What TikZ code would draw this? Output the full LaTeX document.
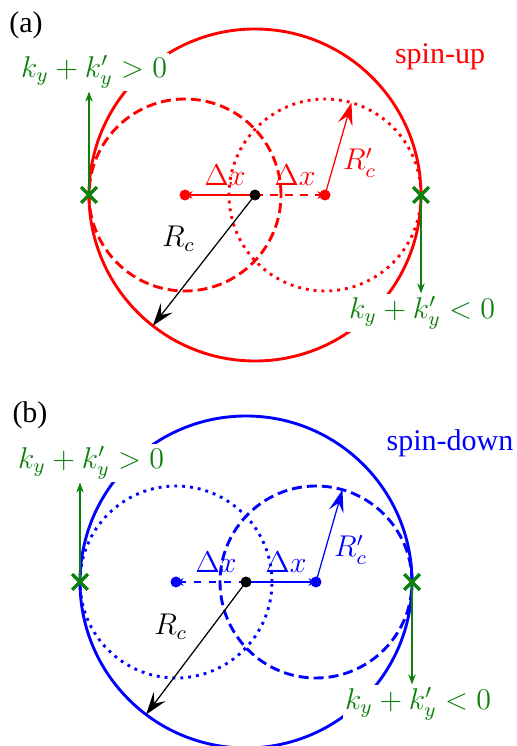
\documentclass[tikz,border=0pt]{standalone}
\usepackage[no-math]{fontspec}
\setmainfont{Liberation Serif}
\usepackage{xcolor}
\definecolor{kgreen}{HTML}{0B800B}
\usetikzlibrary{arrows.meta,positioning,calc,shapes.misc}
\tikzset{
  >=Stealth,
  font=\fontsize{12}{14}\selectfont,
  fermi/.style={line width=1.15pt},
  shifted/.style={fermi,dash pattern=on 4pt off 2pt},
  ctr/.style={circle,fill,inner sep=0pt,minimum size=4.4pt},
  dxarr/.style={-{Stealth[length=3pt,width=3pt]},line width=0.6pt},
  radarr/.style={-{Stealth[length=9pt,width=6pt,inset=3.5pt]},line width=0.5pt},
  kvec/.style={-{Stealth[length=4pt,width=3pt]},line width=0.45pt,draw=kgreen},
  kmark/.style={cross out,draw=kgreen,line width=1.3pt,minimum size=5pt,inner sep=0pt},
  klbl/.style={text=kgreen,fill=white,inner sep=1pt},
}
\begin{document}
\begin{tikzpicture}[x=0.4pt,y=0.4pt]
  \useasboundingbox (0,0) rectangle (516,746);

  % (a) spin-up
  \coordinate (oa) at (255,551);
  \coordinate (la) at (185,551);
  \coordinate (ra) at (325,551);
  \draw[fermi,red] (oa) circle[radius=166];
  \node[klbl] (ka1) at (94,674) {$k_y+k'_y>0$};
  \node[klbl] (ka2) at (422,433) {$k_y+k'_y<0$};
  \node[text=red] (spa) at (440,689) {spin-up};
  \node (pa) at (26,721) {(a)};
  \draw[shifted,red] (la) circle[radius=96];
  \draw[fermi,red,dotted] (ra) circle[radius=96];
  \coordinate (rca) at ($(oa)+(232:166)$);
  \coordinate (rpa) at ($(ra)+(74:96)$);
  \draw[dxarr,red] (oa) -- node[above,xshift=2pt] (dxa1) {$\Delta x$} (la);
  \draw[dxarr,red,dashed] (oa) -- node[above,xshift=2pt] (dxa2) {$\Delta x$} (ra);
  \draw[radarr,red] (ra) -- node[pos=0.35,right] (rpla) {$R'_c$} (rpa);
  \draw[radarr] (oa) -- node[midway,above left] (rcla) {$R_c$} (rca);
  \node[ctr,red] (dla) at (la) {};
  \node[ctr,red] (dra) at (ra) {};
  \node[ctr] (doa) at (oa) {};
  \node[kmark] (xa1) at ($(oa)+(180:166)$) {};
  \node[kmark] (xa2) at ($(oa)+(0:166)$) {};
  \draw[kvec] (xa1.center) -- (xa1.center |- ka1.south);
  \draw[kvec] (xa2.center) -- (xa2.center |- ka2.north);

  % (b) spin-down
  \coordinate (ob) at (246,164);
  \coordinate (lb) at (176,164);
  \coordinate (rb) at (316,164);
  \draw[fermi,blue] (ob) circle[radius=166];
  \node[klbl] (kb1) at (91,283) {$k_y+k'_y>0$};
  \node[klbl] (kb2) at (418,42) {$k_y+k'_y<0$};
  \node[text=blue] (spb) at (450,303) {spin-down};
  \node (pb) at (30,331) {(b)};
  \draw[fermi,blue,dotted] (lb) circle[radius=96];
  \draw[shifted,blue] (rb) circle[radius=96];
  \coordinate (rcb) at ($(ob)+(233:166)$);
  \coordinate (rpb) at ($(rb)+(74:96)$);
  \draw[dxarr,blue,dashed] (ob) -- node[above,xshift=2pt] (dxb1) {$\Delta x$} (lb);
  \draw[dxarr,blue] (ob) -- node[above,xshift=2pt] (dxb2) {$\Delta x$} (rb);
  \draw[radarr,blue] (rb) -- node[pos=0.35,right] (rplb) {$R'_c$} (rpb);
  \draw[radarr] (ob) -- node[midway,above left] (rclb) {$R_c$} (rcb);
  \node[ctr,blue] (dlb) at (lb) {};
  \node[ctr,blue] (drb) at (rb) {};
  \node[ctr] (dob) at (ob) {};
  \node[kmark] (xb1) at ($(ob)+(180:166)$) {};
  \node[kmark] (xb2) at ($(ob)+(0:166)$) {};
  \draw[kvec] (xb1.center) -- (xb1.center |- kb1.south);
  \draw[kvec] (xb2.center) -- (xb2.center |- kb2.north);
\end{tikzpicture}
\end{document}
